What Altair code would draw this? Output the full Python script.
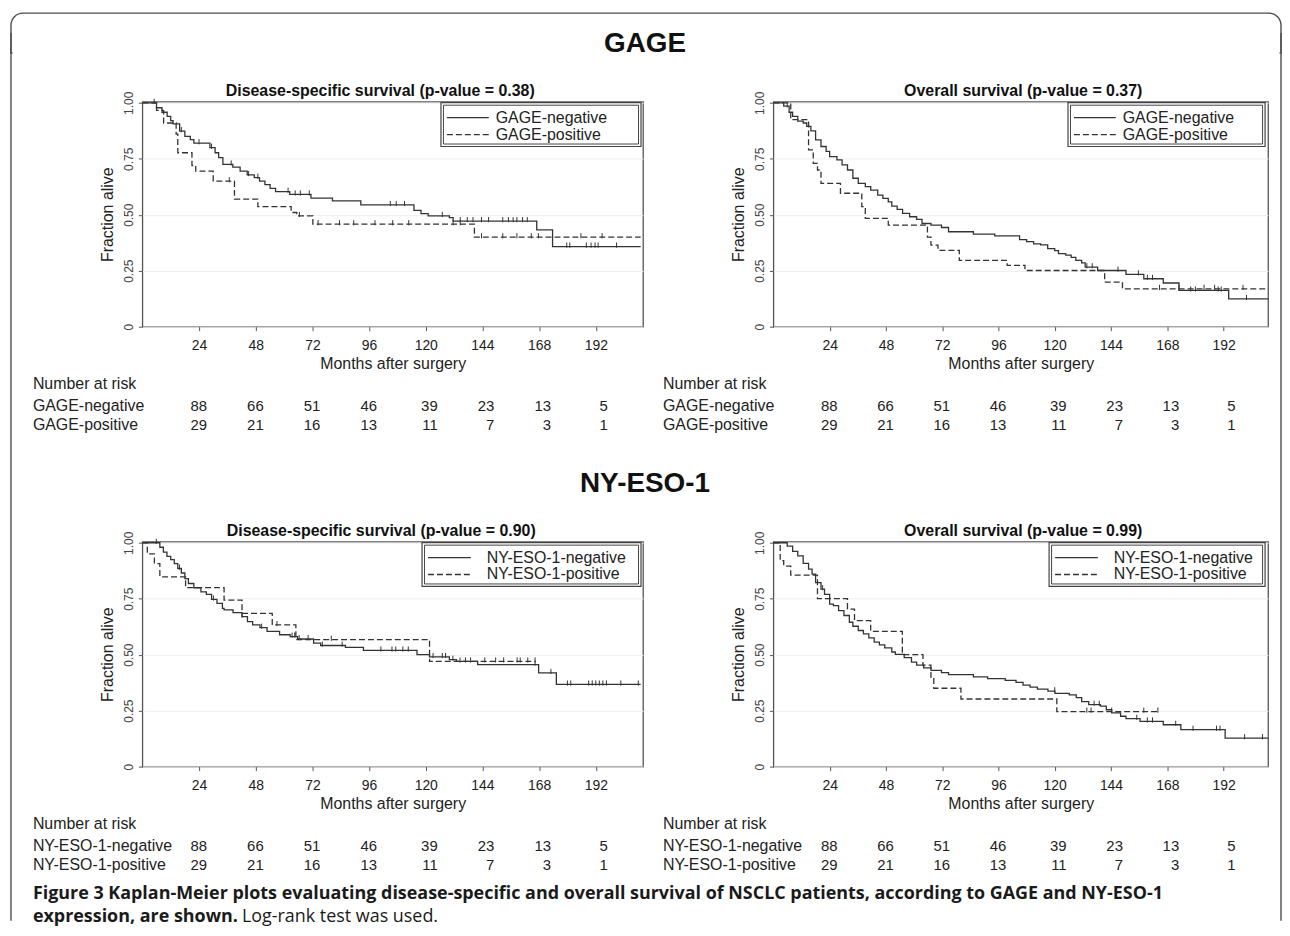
import altair as alt
import pandas as pd

FONT = "Liberation Sans"
CAPFONT = "Open Sans"
INK = "#222222"
LINE = "#333333"
FRAME = "#555555"

# ---------------- data ----------------
X_TICKS = [24, 48, 72, 96, 120, 144, 168, 192]
Y_TICKS = [0, 0.25, 0.5, 0.75, 1.0]
RISK_NEG = [88, 66, 51, 46, 39, 23, 13, 5]
RISK_POS = [29, 21, 16, 13, 11, 7, 3, 1]

# GAGE, disease-specific survival  (month, fraction alive)
A_NEG = [(0, 1.0), (6.0, 0.978), (8.3, 0.958), (10.5, 0.94), (12.0, 0.921), (13.0, 0.906),
         (15.8, 0.874), (18.0, 0.85), (20.3, 0.836), (21.8, 0.82), (28.6, 0.80), (30.8, 0.777),
         (32.3, 0.755), (34.1, 0.725), (38.3, 0.713), (41.4, 0.695), (44.4, 0.678), (47.4, 0.666),
         (49.6, 0.65), (51.9, 0.635), (54.1, 0.618), (56.4, 0.603), (62.4, 0.591), (71.4, 0.574),
         (80.5, 0.562), (92.5, 0.544), (115.0, 0.52), (118.0, 0.505), (121.0, 0.495), (130.0, 0.487),
         (131.6, 0.472), (167.0, 0.432), (173.7, 0.358), (211.0, 0.358)]
A_NEG_CENS = [5, 16.5, 24, 29.3, 37.6, 45, 48.9, 61.7, 64.7, 66.9, 70.7, 105, 107.5, 111, 127,
              134.6, 137.6, 140, 143.6, 146.6, 152.6, 155, 157, 158.6, 161, 163, 179.7, 181,
              188, 190, 191.7, 193, 200.8]
A_POS = [(0, 1.0), (6.0, 0.966), (9.0, 0.91), (14.3, 0.86), (15.0, 0.777), (21.0, 0.72),
         (22.6, 0.695), (30.0, 0.65), (39.0, 0.57), (48.9, 0.536), (63.0, 0.51), (65.4, 0.495),
         (72.2, 0.458), (140.6, 0.40), (211.0, 0.40)]
A_POS_CENS = [36.8, 66.5, 74.4, 83.5, 89.5, 98.5, 106, 112.8, 131.6, 134.6, 143.6, 152.6,
              158.6, 164.7, 167.7, 185.7, 194.7]

# GAGE, overall survival
B_NEG = [(0, 1.0), (4.4, 0.985), (6.7, 0.958), (8.2, 0.94), (10.4, 0.918), (12.7, 0.91),
         (14.2, 0.895), (16.0, 0.875), (18.0, 0.835), (20.3, 0.805), (22.5, 0.783), (24.0, 0.76),
         (27.1, 0.745), (29.3, 0.723), (31.6, 0.70), (33.9, 0.663), (36.2, 0.64), (39.2, 0.626),
         (41.5, 0.61), (44.5, 0.588), (46.7, 0.573), (49.0, 0.558), (50.5, 0.539), (52.8, 0.524),
         (55.1, 0.506), (58.1, 0.491), (61.1, 0.479), (63.4, 0.461), (67.2, 0.454), (71.7, 0.443),
         (74.7, 0.424), (85.3, 0.413), (94.4, 0.406), (105.0, 0.389), (108.0, 0.38), (111.0, 0.37),
         (114.0, 0.365), (117.0, 0.349), (120.0, 0.34), (121.6, 0.326), (124.7, 0.32), (127.0, 0.31),
         (129.0, 0.296), (131.5, 0.285), (133.0, 0.266), (138.3, 0.251), (150.4, 0.234),
         (158.0, 0.214), (166.3, 0.195), (173.0, 0.162), (194.2, 0.124), (211.0, 0.124)]
B_NEG_CENS = [5.9, 133.7, 136, 147, 155.7, 159.5, 161.7, 178, 180, 189.7, 191, 201.8]
B_POS = [(0, 1.0), (7.4, 0.925), (15.0, 0.79), (17.0, 0.73), (18.8, 0.70), (20.3, 0.64),
         (28.6, 0.596), (37.7, 0.536), (39.2, 0.484), (49.0, 0.454), (65.7, 0.40), (67.2, 0.364),
         (70.2, 0.341), (79.3, 0.296), (99.7, 0.274), (107.3, 0.251), (141.3, 0.199),
         (148.9, 0.169), (211.0, 0.169)]
B_POS_CENS = [164.7, 173, 183.7, 188.2, 200.3]

# NY-ESO-1, disease-specific survival
C_NEG = [(0, 1.0), (7.4, 0.98), (8.9, 0.958), (10.4, 0.939), (12.0, 0.925), (13.5, 0.907),
         (15.0, 0.885), (16.5, 0.865), (18.0, 0.84), (19.5, 0.818), (21.8, 0.799), (24.8, 0.781),
         (27.1, 0.769), (29.3, 0.747), (31.6, 0.729), (33.9, 0.707), (34.6, 0.70), (38.4, 0.688),
         (42.2, 0.67), (44.5, 0.648), (46.7, 0.633), (49.8, 0.621), (52.8, 0.604), (58.1, 0.589),
         (62.6, 0.581), (65.7, 0.57), (72.5, 0.552), (75.5, 0.541), (86.0, 0.533), (93.6, 0.519),
         (116.3, 0.50), (121.6, 0.49), (130.0, 0.478), (133.0, 0.47), (142.0, 0.456),
         (167.8, 0.419), (175.3, 0.367), (211.0, 0.367)]
C_NEG_CENS = [5.9, 15.7, 30.1, 42.2, 50.5, 63.4, 64.5, 66.4, 70.2, 76.2, 84.6, 101, 105.7, 107.3,
              110.3, 112.6, 123.1, 127, 128.4, 131.5, 134.5, 136.8, 139, 166.3, 173, 180, 181.4,
              189, 190.5, 192, 193.5, 195, 196.5, 202.6, 210]
C_POS = [(0, 1.0), (2.1, 0.95), (5.1, 0.907), (7.4, 0.848), (18.3, 0.80), (34.6, 0.744),
         (42.2, 0.685), (55.0, 0.633), (65.0, 0.567), (121.6, 0.47), (166.3, 0.47)]
C_POS_CENS = [57, 80, 145, 149.6, 153, 158.7, 160, 163.2, 166.3]

# NY-ESO-1, overall survival
D_NEG = [(0, 1.0), (5.9, 0.985), (8.2, 0.962), (10.4, 0.941), (12.7, 0.908), (15.0, 0.882),
         (16.5, 0.86), (18.0, 0.822), (20.3, 0.793), (21.8, 0.769), (24.0, 0.726), (25.6, 0.719),
         (27.8, 0.697), (30.1, 0.675), (32.4, 0.645), (33.9, 0.627), (36.2, 0.608), (38.4, 0.593),
         (40.7, 0.575), (43.0, 0.556), (45.2, 0.544), (47.5, 0.53), (50.5, 0.512), (52.0, 0.501),
         (55.8, 0.487), (58.9, 0.467), (61.1, 0.453), (64.1, 0.441), (67.2, 0.43), (71.7, 0.42),
         (74.7, 0.411), (85.3, 0.401), (91.4, 0.393), (98.9, 0.385), (103.5, 0.376), (106.5, 0.364),
         (109.5, 0.355), (112.6, 0.346), (117.1, 0.337), (120.1, 0.327), (126.2, 0.32),
         (129.2, 0.308), (131.5, 0.29), (134.5, 0.277), (139.5, 0.27), (142.0, 0.254),
         (144.3, 0.24), (148.1, 0.225), (150.4, 0.214), (156.4, 0.202), (166.3, 0.187),
         (173.8, 0.165), (192.7, 0.127), (211.0, 0.127)]
D_NEG_CENS = [21, 120, 136.8, 139, 155, 159.5, 161.7, 171.6, 179, 189, 190.5, 201, 208.6]
D_POS = [(0, 1.0), (2.9, 0.92), (4.4, 0.896), (7.4, 0.855), (18.8, 0.75), (31.6, 0.704),
         (34.6, 0.652), (41.5, 0.604), (55.0, 0.50), (63.8, 0.453), (67.2, 0.40), (68.4, 0.35),
         (80.0, 0.302), (120.9, 0.246), (164.8, 0.246)]
D_POS_CENS = [133.7, 135.5, 144.3, 158, 164]

GAGE_NAMES = ["GAGE-negative", "GAGE-positive"]
NY_NAMES = ["NY-ESO-1-negative", "NY-ESO-1-positive"]

# ---------------- layout constants (pixels) ----------------
PH = 226            # plot height
W_ALL = 1276
ONE = pd.DataFrame({"v": [0]})


def step_value(pairs, t):
    v = pairs[0][1]
    for tt, s in pairs:
        if tt <= t:
            v = s
        else:
            break
    return v


def panel(neg, neg_c, pos, pos_c, names, title, title_x, width, xmax, leg, row_x):
    xs = alt.Scale(domain=[0, xmax], nice=False, zero=False)
    ys = alt.Scale(domain=[0, 1.005], nice=False, zero=False)
    xax = alt.Axis(values=X_TICKS, title="Months after surgery", grid=False, domain=False,
                   tickSize=4, tickColor=FRAME, labelFont=FONT, labelFontSize=14, labelColor=INK,
                   labelPadding=8, titleFont=FONT, titleFontSize=16, titleFontWeight="normal",
                   titleColor=INK, titlePadding=3, labelFlush=False)
    yax = alt.Axis(values=Y_TICKS, title="Fraction alive", domain=False, grid=True,
                   gridColor="#eeeeee", gridWidth=1, tickSize=4, tickColor=FRAME,
                   labelExpr="datum.value == 0 ? '0' : format(datum.value, '.2f')",
                   labelAngle=270, labelAlign="center", labelBaseline="bottom",
                   labelFont=FONT, labelFontSize=12, labelColor="#444444", labelPadding=3,
                   titleFont=FONT, titleFontSize=16, titleFontWeight="normal", titleColor=INK,
                   titlePadding=7)

    rows = [{"t": t, "s": s, "g": "neg"} for t, s in neg] + \
           [{"t": t, "s": s, "g": "pos"} for t, s in pos]
    df = pd.DataFrame(rows)
    cens = [{"t": c, "s": step_value(neg, c), "g": "neg"} for c in neg_c] + \
           [{"t": c, "s": step_value(pos, c), "g": "pos"} for c in pos_c]
    dfc = pd.DataFrame(cens)

    lines = alt.Chart(df).mark_line(interpolate="step-after", color=LINE, strokeWidth=1.3).encode(
        x=alt.X("t:Q", scale=xs, axis=xax),
        y=alt.Y("s:Q", scale=ys, axis=yax),
        detail="g:N",
        strokeDash=alt.StrokeDash("g:N", scale=alt.Scale(domain=["neg", "pos"],
                                                          range=[[1, 0], [6, 3]]), legend=None),
    )
    marks = alt.Chart(dfc).mark_point(shape="M0,-1L0,0.3", size=64, filled=False, color=LINE,
                                      strokeWidth=1, opacity=1).encode(
        x=alt.X("t:Q", scale=xs, axis=xax),
        y=alt.Y("s:Q", scale=ys, axis=yax),
    )

    # legend box
    L, R = leg["left"], leg["right"]
    box_o = alt.Chart(ONE).mark_rect(fill="white", stroke="#444444", strokeWidth=1.2).encode(
        x=alt.value(L), x2=alt.value(R), y=alt.value(1), y2=alt.value(45))
    box_i = alt.Chart(ONE).mark_rect(fillOpacity=0, stroke="#444444", strokeWidth=1).encode(
        x=alt.value(L + 2.5), x2=alt.value(R - 2.5), y=alt.value(3.5), y2=alt.value(42.5))
    s1 = alt.Chart(ONE).mark_rule(color=LINE, strokeWidth=1.3).encode(
        x=alt.value(leg["s1"]), x2=alt.value(leg["s2"]), y=alt.value(16))
    s2 = alt.Chart(ONE).mark_rule(color=LINE, strokeWidth=1.3, strokeDash=[6, 3]).encode(
        x=alt.value(leg["s1"]), x2=alt.value(leg["s2"]), y=alt.value(33))
    t1 = alt.Chart(ONE).mark_text(text=names[0], align="left", baseline="middle", font=FONT,
                                  fontSize=16, color=INK).encode(
        x=alt.value(leg["tx"]), y=alt.value(16))
    t2 = alt.Chart(ONE).mark_text(text=names[1], align="left", baseline="middle", font=FONT,
                                  fontSize=16, color=INK).encode(
        x=alt.value(leg["tx"]), y=alt.value(33))

    ttl = alt.Chart(ONE).mark_text(text=title, align="center", baseline="middle", font=FONT,
                                   fontSize=16, fontWeight="bold", color="#111111").encode(
        x=alt.value(title_x), y=alt.value(-11))

    # number at risk table
    tab = pd.DataFrame({"t": X_TICKS, "neg": RISK_NEG, "pos": RISK_POS})
    layers_tab = []
    for field, ypix in (("neg", 306), ("pos", 325)):
        for cond, dx in (("datum.t < 100", 8), ("datum.t > 100", 12)):
            layers_tab.append(
                alt.Chart(tab).transform_filter(cond).mark_text(
                    align="right", baseline="middle", font=FONT, fontSize=15, color=INK, dx=dx
                ).encode(x=alt.X("t:Q", scale=xs, axis=xax), y=alt.value(ypix),
                         text=alt.Text(f"{field}:Q")))
    lab_h = alt.Chart(ONE).mark_text(text="Number at risk", align="left", baseline="middle",
                                     font=FONT, fontSize=16, color=INK).encode(
        x=alt.value(row_x), y=alt.value(284))
    lab_n = alt.Chart(ONE).mark_text(text=names[0], align="left", baseline="middle",
                                     font=FONT, fontSize=16, color=INK).encode(
        x=alt.value(row_x), y=alt.value(306))
    lab_p = alt.Chart(ONE).mark_text(text=names[1], align="left", baseline="middle",
                                     font=FONT, fontSize=16, color=INK).encode(
        x=alt.value(row_x), y=alt.value(325))

    return alt.layer(lines, marks, box_o, box_i, s1, s2, t1, t2, ttl, *layers_tab,
                     lab_h, lab_n, lab_p).properties(
        width=width, height=PH,
        view=alt.ViewBackground(stroke=FRAME, strokeWidth=1.3))


def blank(h=1):
    return alt.Chart(ONE).mark_point(opacity=0).encode(
        x=alt.value(0), y=alt.value(0)).properties(width=1, height=h)


LEG_G1 = {"left": 300, "right": 501, "s1": 306, "s2": 348, "tx": 355}
LEG_G2 = {"left": 296, "right": 494, "s1": 302, "s2": 344, "tx": 351}
LEG_N1 = {"left": 281, "right": 501, "s1": 287, "s2": 330, "tx": 346}
LEG_N2 = {"left": 277, "right": 494, "s1": 283, "s2": 326, "tx": 342}

p1 = panel(A_NEG, A_NEG_CENS, A_POS, A_POS_CENS, GAGE_NAMES,
           "Disease-specific survival (p-value = 0.38)", 239, 503, 212, LEG_G1, -110)
p2 = panel(B_NEG, B_NEG_CENS, B_POS, B_POS_CENS, GAGE_NAMES,
           "Overall survival (p-value = 0.37)", 251, 497, 211, LEG_G2, -111)
p3 = panel(C_NEG, C_NEG_CENS, C_POS, C_POS_CENS, NY_NAMES,
           "Disease-specific survival (p-value = 0.90)", 240, 503, 212, LEG_N1, -110)
p4 = panel(D_NEG, D_NEG_CENS, D_POS, D_POS_CENS, NY_NAMES,
           "Overall survival (p-value = 0.99)", 251, 497, 211, LEG_N2, -111)

# header with figure border
BORDER = "#4d4d4d"
hdr_rect = alt.Chart(ONE).mark_rect(fill="white", stroke=BORDER, strokeWidth=1.4,
                                    cornerRadiusTopLeft=12, cornerRadiusTopRight=12).encode(
    x=alt.value(0), x2=alt.value(W_ALL), y=alt.value(0), y2=alt.value(40))
hdr_cover = alt.Chart(ONE).mark_rect(fill="white", strokeWidth=0).encode(
    x=alt.value(1.5), x2=alt.value(W_ALL - 1.5), y=alt.value(20), y2=alt.value(47))
side_l = alt.Chart(ONE).mark_rule(color=BORDER, strokeWidth=1.4).encode(
    x=alt.value(0), y=alt.value(20), y2=alt.value(912))
side_r = alt.Chart(ONE).mark_rule(color=BORDER, strokeWidth=1.4).encode(
    x=alt.value(W_ALL), y=alt.value(20), y2=alt.value(912))
gage = alt.Chart(ONE).mark_text(text="GAGE", font=FONT, fontSize=28, fontWeight="bold",
                                color="#111111", baseline="middle").encode(
    x=alt.value(637), y=alt.value(31))
header = alt.layer(hdr_rect, hdr_cover, side_l, side_r, gage).properties(width=1, height=89)

ny = alt.Chart(ONE).mark_text(text="NY-ESO-1", font=FONT, fontSize=28, fontWeight="bold",
                              color="#111111", baseline="middle").encode(
    x=alt.value(637), y=alt.value(158))
mid = alt.layer(ny).properties(width=1, height=216)

cap1 = alt.Chart(ONE).mark_text(
    text="Figure 3 Kaplan-Meier plots evaluating disease-specific and overall survival of NSCLC patients, according to GAGE and NY-ESO-1",
    align="left", baseline="middle", font=CAPFONT, fontSize=18, fontWeight="bold",
    color="#1a1a1a").encode(x=alt.value(22), y=alt.value(128))
cap2 = alt.Chart(ONE).mark_text(text="expression, are shown.", align="left", baseline="middle",
                                font=CAPFONT, fontSize=18, fontWeight="bold",
                                color="#1a1a1a").encode(x=alt.value(22), y=alt.value(151))
cap3 = alt.Chart(ONE).mark_text(text="Log-rank test was used.", align="left", baseline="middle",
                                font=CAPFONT, fontSize=18, fontWeight="normal",
                                color="#1a1a1a").encode(x=alt.value(232), y=alt.value(151))
caption = alt.layer(cap1, cap2, cap3).properties(width=1, height=160)

cells = [header, blank(), blank(),
         blank(PH), p1, p2,
         mid, blank(), blank(),
         blank(PH), p3, p4,
         caption, blank(), blank()]

chart = alt.concat(*cells, columns=3, spacing={"row": 0, "column": 131},
                   bounds="flush").properties(
    padding=0, background="white"
).configure_view(stroke=None)

chart.save("out.html", embed_options={"renderer": "svg", "actions": False})
